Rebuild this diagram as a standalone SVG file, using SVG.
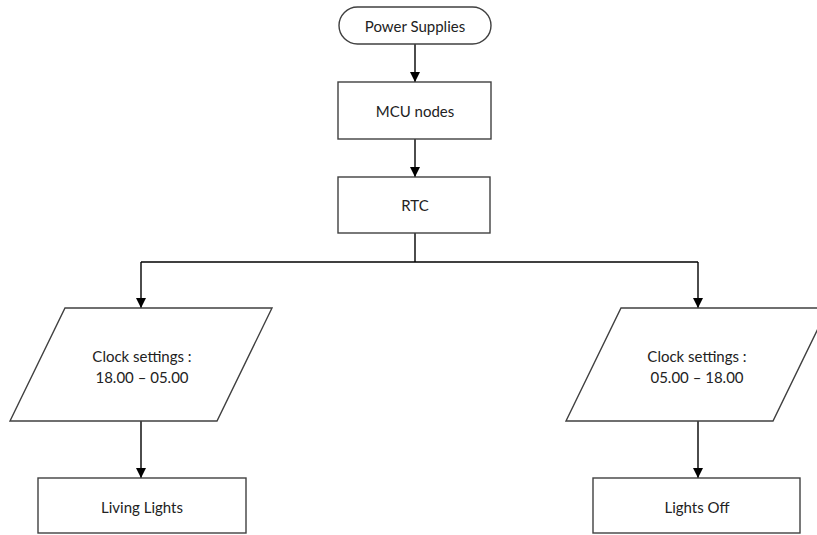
<svg xmlns="http://www.w3.org/2000/svg" width="817" height="535" viewBox="0 0 817 535">
<style>
.shape{fill:#fff;stroke:#404040;stroke-width:1.4}
.conn{fill:none;stroke:#000;stroke-width:1.4}
text{font-family:Lato,"Open Sans","Liberation Sans",sans-serif;font-size:15px;fill:#222;text-anchor:middle;dominant-baseline:central}
</style>
<defs>
<marker id="arr" viewBox="0 0 10 10" refX="10" refY="5" markerWidth="10" markerHeight="10" markerUnits="userSpaceOnUse" orient="auto">
<path d="M0,0 L10,5 L0,10 z" fill="#000"/>
</marker>
</defs>
<rect width="817" height="535" fill="#fff"/>
<g id="connectors">
<line class="conn" x1="415" y1="44" x2="415" y2="82" marker-end="url(#arr)"/>
<line class="conn" x1="415" y1="139" x2="415" y2="177" marker-end="url(#arr)"/>
<line class="conn" x1="415" y1="233" x2="415" y2="262"/>
<line class="conn" x1="141" y1="262" x2="698" y2="262" stroke="#404040"/>
<line class="conn" x1="141" y1="262" x2="141" y2="308" marker-end="url(#arr)"/>
<line class="conn" x1="698" y1="262" x2="698" y2="308" marker-end="url(#arr)"/>
<line class="conn" x1="141" y1="421" x2="141" y2="478" marker-end="url(#arr)"/>
<line class="conn" x1="698" y1="421" x2="698" y2="478" marker-end="url(#arr)"/>
</g>
<g id="power">
<rect class="shape" x="339" y="7" width="152" height="37" rx="18.5" ry="18.5"/>
<text x="415" y="26">Power Supplies</text>
</g>
<g id="mcu">
<rect class="shape" x="338" y="82" width="153" height="57"/>
<text x="415" y="111">MCU nodes</text>
</g>
<g id="rtc">
<rect class="shape" x="338" y="177" width="152" height="56"/>
<text x="415" y="205">RTC</text>
</g>
<g id="clock-left">
<polygon class="shape" points="65,308 272,308 217,421 10,421"/>
<text x="142" y="356">Clock settings :</text>
<text x="142" y="377">18.00 – 05.00</text>
</g>
<g id="clock-right">
<polygon class="shape" points="621,308 828,308 773,421 566,421"/>
<text x="697" y="356">Clock settings :</text>
<text x="697" y="377">05.00 – 18.00</text>
</g>
<g id="living">
<rect class="shape" x="38" y="478" width="208" height="55"/>
<text x="142" y="507">Living Lights</text>
</g>
<g id="off">
<rect class="shape" x="593" y="478" width="207" height="55"/>
<text x="697" y="507">Lights Off</text>
</g>
</svg>
